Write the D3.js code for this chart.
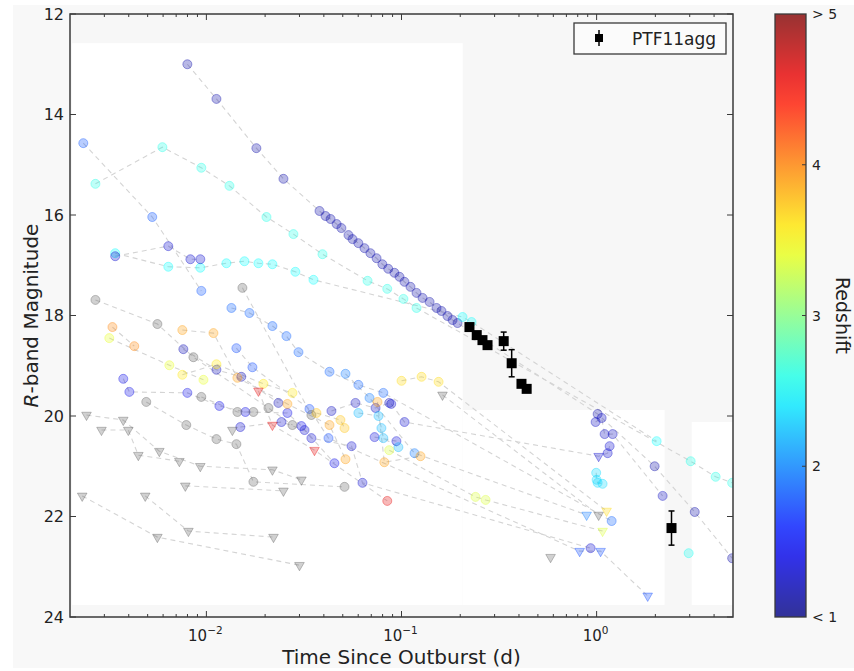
<!DOCTYPE html>
<html><head><meta charset="utf-8">
<script src="https://cdn.jsdelivr.net/npm/d3@7"></script>
<style>
body{margin:0;background:#fff;}
svg{display:block;font-family:"DejaVu Sans",sans-serif;}
</style></head><body>
<svg id="chart" width="854" height="671"></svg>
<script>
// ---------- DATA ----------
// redshift of each comparison afterglow (null = unknown redshift, drawn gray)
const redshifts = [1.15, 1.25, 1.3, 2.6, 2.5, 2.35, 2.55, 1.8, 1.85, 1.95, 1.75, 1.3, 1.4, 1.2, 1.3, 1.25, 1.35, 2.2,
  null, null, null, null, null, null, null, null, null, null, null, null,
  4.0, 3.4, 3.9, 3.6, 3.65, 3.75, 3.9, 3.35, 4.6];
// light curves: [time since outburst (d), R magnitude, upper limit flag]
const lightCurves = [
  [[0.00799,13.00],[0.01126,13.69],[0.01804,14.67],[0.02483,15.28],[0.0380,15.92],[0.0408,16.02],[0.0433,16.08],[0.0465,16.18],[0.0492,16.26],[0.0535,16.40],[0.0561,16.48],[0.0601,16.56],[0.0646,16.66],[0.0693,16.76],[0.0745,16.86],[0.0798,16.98],[0.0855,17.07],[0.0920,17.15],[0.0977,17.23],[0.1036,17.33],[0.1112,17.43],[0.1194,17.55],[0.1282,17.65],[0.1393,17.73],[0.1512,17.85],[0.1603,17.91],[0.1720,18.01],[0.1827,18.09],[0.1937,18.15],[1.012,19.96],[1.983,21.00],[3.183,21.91],[4.95,22.83]],
  [[0.988,20.12],[1.061,20.04],[1.099,20.36],[1.208,20.36],[2.179,21.59]],
  [[0.0886,19.76],[0.1036,20.12],[1.024,20.80,1],[1.139,20.74],[1.166,20.60]],
  [[0.0027,15.38],[0.00595,14.65],[0.00942,15.06],[0.01313,15.42],[0.02032,16.04],[0.02793,16.38],[0.03936,16.78],[0.06699,17.31],[0.08454,17.47],[0.1023,17.67],[0.1194,17.85],[3.034,20.90],[4.075,21.21],[4.95,21.33]],
  [[0.00341,16.76],[0.00638,17.03],[0.00931,17.05],[0.01267,16.96],[0.01567,16.92],[0.01848,16.96],[0.0218,16.98],[0.02858,17.13],[0.03539,17.29],[0.2055,18.03],[0.2286,18.13],[2.03,20.50]],
  [[0.995,21.13],[1.0,21.27],[1.012,21.33],[1.073,21.35]],
  [[2.963,22.73]],
  [[0.00234,14.57],[0.00528,16.04],[0.00942,17.51]],
  [[0.01344,17.85],[0.01663,17.95],[0.0218,18.21],[0.02572,18.41],[0.02965,18.73],[0.04276,19.12],[0.06012,19.38],[0.08072,19.54],[1.194,22.09]],
  [[0.05164,19.16],[0.06855,19.64],[0.1166,20.74],[0.8886,21.97,1]],
  [[0.01425,18.65],[0.01722,19.03],[0.03375,19.86],[0.04224,20.44],[0.8185,22.69,1],[1.048,22.69,1],[1.827,23.58,1]],
  [[0.00341,16.82],[0.00638,16.62],[0.00828,16.88],[0.00931,16.88]],
  [[0.00375,19.26],[0.00403,19.52],[0.00799,19.54],[0.01166,19.80],[0.01585,19.92],[0.02602,19.94],[0.03069,20.20],[0.04531,20.94]],
  [[0.00762,18.67],[0.01126,19.08],[0.0151,19.22],[0.02339,19.74]],
  [[0.01493,20.22],[0.02426,20.12],[0.03184,20.28],[0.03453,20.44],[0.05546,20.60],[0.0631,21.33],[0.9317,22.63]],
  [[0.04375,19.90],[0.05808,19.74],[0.07362,19.84],[0.08652,19.74]],
  [[0.07278,20.42],[0.09418,20.50]],
  [[0.06012,19.94],[0.07621,20.00],[0.07889,20.24],[0.08072,20.44],[0.0964,20.62]],
  [[0.0027,17.69],[0.00561,18.17],[0.00858,18.83],[0.0208,19.84],[0.02761,20.18]],
  [[0.0153,17.45],[0.03453,19.98]],
  [[0.00492,19.72],[0.00789,20.18],[0.01126,20.46],[0.01425,20.56],[0.01742,21.31],[0.05105,21.41]],
  [[0.00942,19.62],[0.01442,19.92],[0.01742,19.92]],
  [[0.00243,19.98,1],[0.00375,20.08,1],[0.00574,20.70,1],[0.00931,21.00,1],[0.0218,21.07,1],[0.03069,21.27,1]],
  [[0.0029,20.28,1],[0.00398,20.28,1],[0.00448,20.78,1],[0.00727,20.90,1]],
  [[0.00231,21.59,1],[0.00561,22.41,1],[0.030,22.97,1]],
  [[0.00486,21.59,1],[0.00809,22.29,1],[0.02208,22.41,1]],
  [[0.0078,21.39,1],[0.02483,21.49,1]],
  [[0.01359,20.28,1]],
  [[0.1622,19.58,1],[1.024,21.97,1]],
  [[0.5808,22.81,1]],
  [[0.0033,18.23],[0.00427,18.61]],
  [[0.00318,18.45],[0.00646,18.99],[0.00966,19.28]],
  [[0.00753,18.29],[0.01087,18.35],[0.01442,19.24],[0.02602,19.76],[0.04276,20.18],[0.05164,20.86]],
  [[0.00753,19.18],[0.01126,18.97],[0.0196,19.36],[0.02761,19.54]],
  [[0.1,19.30],[0.1267,19.22],[0.1549,19.32],[1.125,21.89,1]],
  [[0.03664,19.94],[0.04864,20.08],[0.05105,20.24]],
  [[0.07534,19.72],[0.08166,20.92],[0.1251,20.80]],
  [[0.08652,20.68],[0.2395,21.61],[0.2698,21.67],[1.073,22.29,1]],
  [[0.01848,19.50,1],[0.0218,20.18,1],[0.03581,20.68,1],[0.08454,21.69]]
];
// PTF11agg
const ptfTimes = [0.223, 0.243, 0.260, 0.276, 0.334, 0.367, 0.412, 0.438, 2.42];
const ptfMags  = [18.23, 18.39, 18.49, 18.59, 18.51, 18.95, 19.36, 19.46, 22.23];
const ptfErrs  = [0.06, 0.06, 0.06, 0.06, 0.18, 0.27, 0.06, 0.06, 0.34];
const xMajorTicks = [0.01, 0.1, 1];
const xTickExponents = ["−2", "−1", "0"];
const yTicks = [12, 14, 16, 18, 20, 22, 24];
const cbTicks = [5, 4, 3, 2, 1];
const cbTickLabels = ["> 5", "4", "3", "2", "< 1"];

// ---------- LAYOUT ----------
const svg = d3.select("#chart");
const L = 70, R = 733, T = 14, B = 617;
const x = d3.scaleLog().domain([0.002, 5]).range([L, R]);
const y = d3.scaleLinear().domain([12, 24]).range([T, B]);
const cz = d3.scaleLinear().domain([1, 5]).range([B, T]);
const cbX0 = 775, cbX1 = 806;

const jet = v => {
  const c = a => Math.max(0, Math.min(1, a));
  return d3.rgb(255 * c(1.5 - Math.abs(4 * v - 3)), 255 * c(1.5 - Math.abs(4 * v - 2)), 255 * c(1.5 - Math.abs(4 * v - 1)));
};
const zColor = z => z == null ? d3.rgb("#5a5a5a") : jet((Math.max(1, Math.min(5, z)) - 1) / 4);

// figure background
svg.append("rect").attr("x", 13).attr("y", 5).attr("width", 841).attr("height", 663).attr("fill", "#f8f8f8");

// plot background (light gray with white patches as in the source image)
svg.append("rect").attr("x", L).attr("y", T).attr("width", R - L).attr("height", B - T).attr("fill", "#f7f7f7");
const patches = [[0.00205, 0.206, 12.58, 23.76], [0.206, 2.23, 19.88, 23.76], [3.07, 5, 20.12, 23.76]];
svg.selectAll("rect.patch").data(patches).join("rect").attr("class", "patch")
  .attr("x", d => x(d[0])).attr("width", d => x(d[1]) - x(d[0]))
  .attr("y", d => y(d[2])).attr("height", d => y(d[3]) - y(d[2])).attr("fill", "#fff");

svg.append("clipPath").attr("id", "clip").append("rect")
  .attr("x", L).attr("y", T).attr("width", R - L).attr("height", B - T);
const plot = svg.append("g").attr("clip-path", "url(#clip)");

// dashed connecting lines
const line = d3.line().x(d => x(d[0])).y(d => y(d[1]));
plot.selectAll("path.lc").data(lightCurves).join("path").attr("class", "lc")
  .attr("d", line).attr("fill", "none").attr("stroke", "#d4d4d4")
  .attr("stroke-width", 1.1).attr("stroke-dasharray", "5,4");

// markers
const pts = [];
lightCurves.forEach((c, i) => c.forEach(p => pts.push({t: p[0], m: p[1], lim: !!p[2], z: redshifts[i]})));
const tri = d3.symbol().type(d3.symbolTriangle).size(40);
plot.selectAll("g.pt").data(pts).join("g").attr("class", "pt")
  .attr("transform", d => `translate(${x(d.t)},${y(d.m)})`)
  .each(function (d) {
    const g = d3.select(this), col = zColor(d.z);
    const el = d.lim ? g.append("path").attr("d", tri).attr("transform", "rotate(180)")
                     : g.append("circle").attr("r", 4.5);
    el.attr("fill", col).attr("fill-opacity", 0.28)
      .attr("stroke", col).attr("stroke-opacity", 0.36).attr("stroke-width", 1);
  });

// PTF11agg
const ptf = ptfTimes.map((t, i) => ({t, m: ptfMags[i], e: ptfErrs[i]}));
const pg = plot.selectAll("g.ptf").data(ptf).join("g").attr("class", "ptf");
pg.append("line").attr("x1", d => x(d.t)).attr("x2", d => x(d.t))
  .attr("y1", d => y(d.m - d.e)).attr("y2", d => y(d.m + d.e)).attr("stroke", "#000").attr("stroke-width", 1.5);
pg.append("line").attr("x1", d => x(d.t) - 3).attr("x2", d => x(d.t) + 3)
  .attr("y1", d => y(d.m - d.e)).attr("y2", d => y(d.m - d.e)).attr("stroke", "#000").attr("stroke-width", 1.5);
pg.append("line").attr("x1", d => x(d.t) - 3).attr("x2", d => x(d.t) + 3)
  .attr("y1", d => y(d.m + d.e)).attr("y2", d => y(d.m + d.e)).attr("stroke", "#000").attr("stroke-width", 1.5);
pg.append("rect").attr("x", d => x(d.t) - 5).attr("y", d => y(d.m) - 5)
  .attr("width", 10).attr("height", 10).attr("fill", "#000");

// frame
svg.append("rect").attr("x", L).attr("y", T).attr("width", R - L).attr("height", B - T)
  .attr("fill", "none").attr("stroke", "#3a3a3a").attr("stroke-width", 1.5);

// x ticks (inward, top and bottom)
const minor = [];
for (let e = -3; e <= 0; e++) for (let k = 2; k <= 9; k++) {
  const v = k * Math.pow(10, e);
  if (v > 0.002 && v < 5) minor.push(v);
}
const tickG = svg.append("g").attr("stroke", "#3a3a3a").attr("stroke-width", 1);
minor.forEach(v => {
  tickG.append("line").attr("x1", x(v)).attr("x2", x(v)).attr("y1", B).attr("y2", B - 3);
  tickG.append("line").attr("x1", x(v)).attr("x2", x(v)).attr("y1", T).attr("y2", T + 3);
});
xMajorTicks.forEach(v => {
  tickG.append("line").attr("x1", x(v)).attr("x2", x(v)).attr("y1", B).attr("y2", B - 6);
  tickG.append("line").attr("x1", x(v)).attr("x2", x(v)).attr("y1", T).attr("y2", T + 6);
});
yTicks.forEach(v => {
  tickG.append("line").attr("x1", L).attr("x2", L + 6).attr("y1", y(v)).attr("y2", y(v));
  tickG.append("line").attr("x1", R).attr("x2", R - 6).attr("y1", y(v)).attr("y2", y(v));
});

// x tick labels
xMajorTicks.forEach((v, i) => {
  const t = svg.append("text").attr("x", x(v) - 1).attr("y", 641).attr("text-anchor", "middle")
    .attr("fill", "#222").attr("font-size", 15);
  t.append("tspan").text("10");
  t.append("tspan").attr("dy", -7).attr("font-size", 10.5).text(xTickExponents[i]);
});
// y tick labels
svg.selectAll("text.yt").data(yTicks).join("text").attr("class", "yt")
  .attr("x", 64).attr("y", d => y(d)).attr("dy", "0.36em").attr("text-anchor", "end")
  .attr("fill", "#222").attr("font-size", 16).text(d => d);

// axis labels
svg.append("text").attr("x", (L + R) / 2).attr("y", 664).attr("text-anchor", "middle")
  .attr("fill", "#222").attr("font-size", 20).text("Time Since Outburst (d)");
const yl = svg.append("text").attr("transform", `translate(38,${(T + B) / 2}) rotate(-90)`)
  .attr("text-anchor", "middle").attr("fill", "#222").attr("font-size", 20);
yl.append("tspan").attr("font-style", "italic").text("R");
yl.append("tspan").text("-band Magnitude");

// legend
const lg = svg.append("g");
lg.append("rect").attr("x", 574).attr("y", 23).attr("width", 152).attr("height", 31)
  .attr("fill", "#fbfbfb").attr("stroke", "#3a3a3a").attr("stroke-width", 1.3);
lg.append("line").attr("x1", 599).attr("x2", 599).attr("y1", 30).attr("y2", 46).attr("stroke", "#000").attr("stroke-width", 1.5);
lg.append("rect").attr("x", 595).attr("y", 34).attr("width", 8).attr("height", 8).attr("fill", "#000");
lg.append("text").attr("x", 632).attr("y", 45).attr("fill", "#222").attr("font-size", 17).text("PTF11agg");

// colorbar
const grad = svg.append("defs").append("linearGradient").attr("id", "jetgrad")
  .attr("x1", 0).attr("y1", 1).attr("x2", 0).attr("y2", 0);
d3.range(0, 1.0001, 0.05).forEach(v => grad.append("stop").attr("offset", v).attr("stop-color", jet(v)));
svg.append("rect").attr("x", cbX0).attr("y", T).attr("width", cbX1 - cbX0).attr("height", B - T)
  .attr("fill", "url(#jetgrad)").attr("fill-opacity", 0.8);
svg.append("rect").attr("x", cbX0).attr("y", T).attr("width", cbX1 - cbX0).attr("height", B - T)
  .attr("fill", "none").attr("stroke", "#3a3a3a").attr("stroke-width", 1.3);
cbTicks.forEach((v, i) => {
  if (v > 1 && v < 5) svg.append("line").attr("x1", cbX1).attr("x2", cbX1 - 4)
    .attr("y1", cz(v)).attr("y2", cz(v)).attr("stroke", "#3a3a3a");
  svg.append("text").attr("x", 812).attr("y", cz(v)).attr("dy", "0.36em")
    .attr("fill", "#222").attr("font-size", 14).text(cbTickLabels[i]);
});
svg.append("text").attr("transform", `translate(836,${(T + B) / 2}) rotate(90)`)
  .attr("text-anchor", "middle").attr("fill", "#222").attr("font-size", 19).text("Redshift");
</script>
</body></html>
